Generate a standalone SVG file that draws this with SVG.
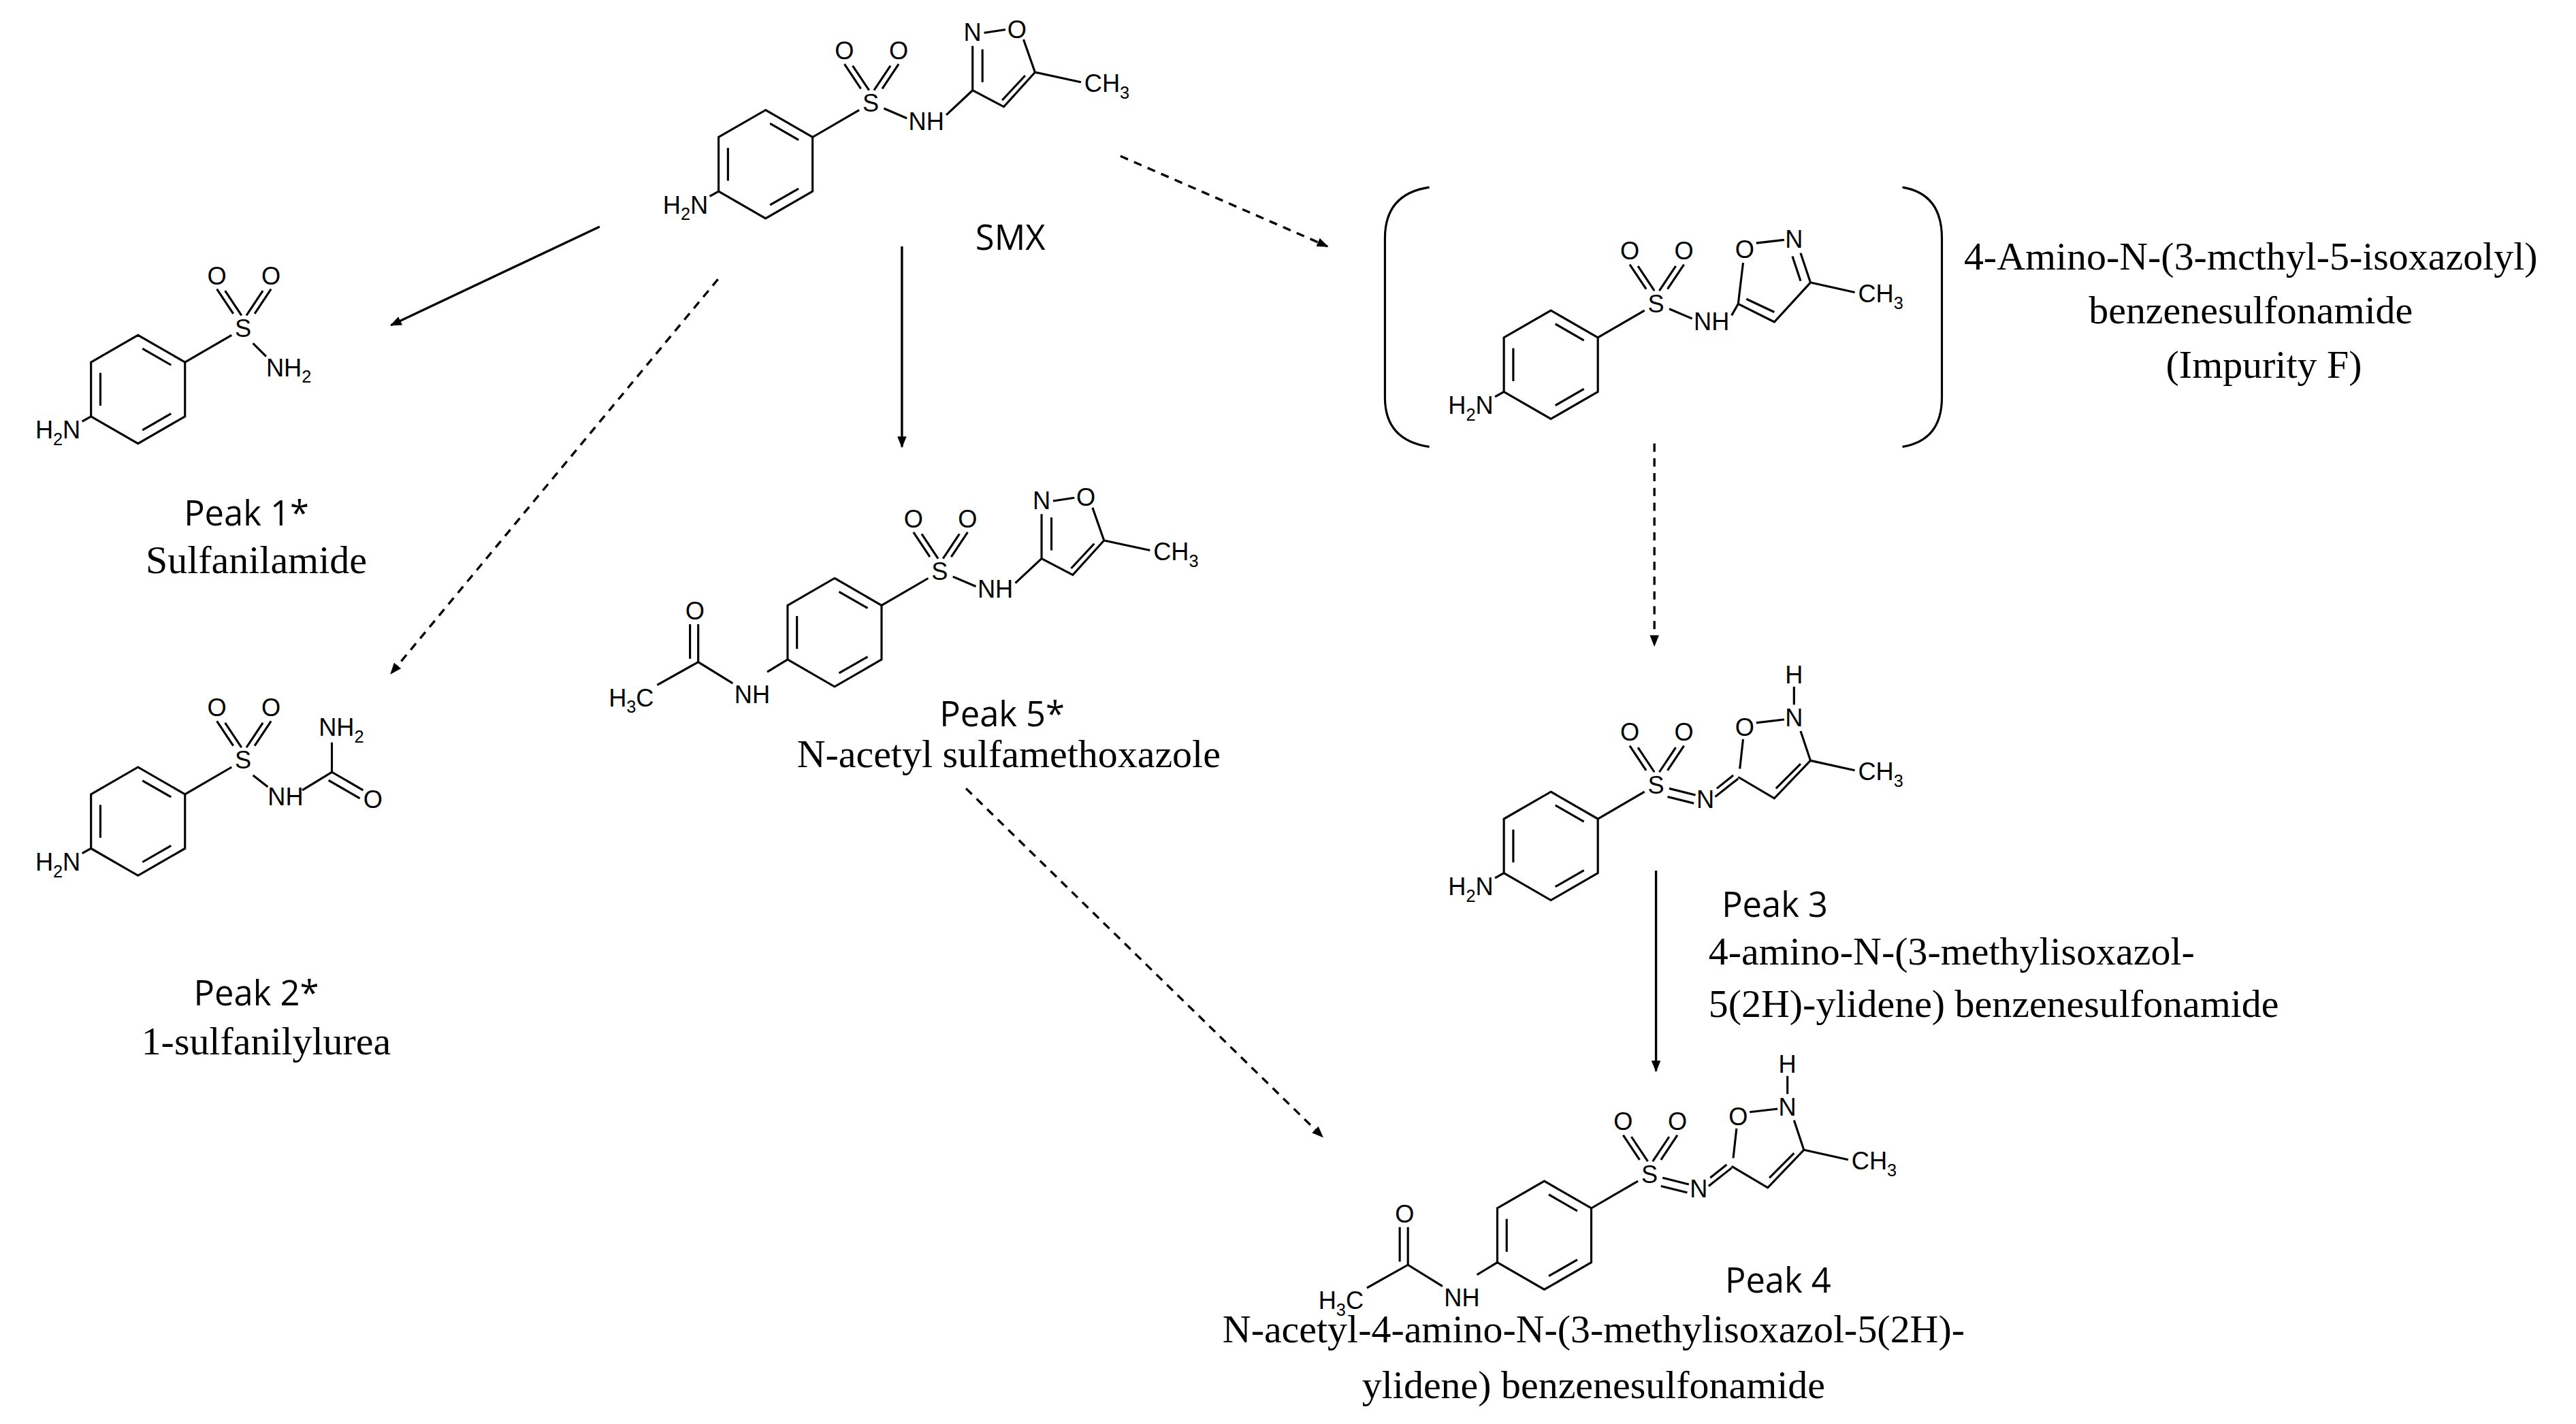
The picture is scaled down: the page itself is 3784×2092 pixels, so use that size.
<svg xmlns="http://www.w3.org/2000/svg" xmlns:xlink="http://www.w3.org/1999/xlink" width="3784" height="2092" viewBox="0 0 3784 2092">
<style>
.b{stroke:#000;stroke-width:1.3;fill:none}
.c{stroke:#000;stroke-width:1.4;fill:none}
.d{stroke:#000;stroke-width:1.4;fill:none;stroke-dasharray:5 4}
.a{font-family:"Liberation Sans",Arial,sans-serif;font-size:15px;fill:#000}
.s{font-size:10.5px}
.p{font-family:"Open Sans","Liberation Sans",sans-serif;font-size:21px;font-weight:500;fill:#000}
.n{font-family:"Liberation Serif","Times New Roman",serif;font-size:24px;fill:#000}
</style>
<defs>
<marker id="ah" viewBox="0 0 10 10" refX="9" refY="5" markerWidth="7" markerHeight="7" orient="auto" markerUnits="userSpaceOnUse"><path d="M0,1 L10,5 L0,9 z" fill="#000"/></marker>
<g id="benz"><path class="b" d="M0,-33 L28.6,-16.5 L28.6,16.5 L0,33 L-28.6,16.5 L-28.6,-16.5 Z M2.7,-24.8 L20.1,-14.8 M20.1,14.8 L2.7,24.8 M-22.9,10 L-22.9,-10"/></g>
<g id="so2">
<use xlink:href="#benz"/>
<path class="b" d="M28.6,-16.5 L57,-33 M58,-46 L48,-61 M63,-45 L53,-60 M66,-45 L76,-60 M71,-46 L81,-61"/>
<text class="a" x="64" y="-32" text-anchor="middle">S</text>
<text class="a" x="48" y="-64" text-anchor="middle">O</text>
<text class="a" x="81" y="-64" text-anchor="middle">O</text>
</g>
<g id="smxcore">
<use xlink:href="#so2"/>
<path class="b" d="M72,-34 L86,-28 M110,-30 L126,-45 L126,-72 M132,-50 L132,-70 M133,-80 L146,-82 M157,-76 L164,-56 L145,-35 L126,-45 M158,-54 L144,-39 M164,-56 L192,-50"/>
<text class="a" x="87" y="-21">NH</text>
<text class="a" x="126" y="-75" text-anchor="middle">N</text>
<text class="a" x="153" y="-77" text-anchor="middle">O</text>
<text class="a" x="194" y="-44">CH<tspan class="s" dy="4">3</tspan></text>
</g>
<g id="ylid">
<use xlink:href="#so2"/>
<path class="b" d="M72,-35 L88,-31 M71,-30 L87,-26 M100,-30 L114,-41 M101,-35 L111,-43 M115,-47 L117,-65 M125,-75 L142,-77 M148,-86 L148,-97 M152,-70 L158,-52 L136,-29 L114,-42 M152,-50 L137,-35 M158,-52 L185,-46"/>
<text class="a" x="94" y="-23" text-anchor="middle">N</text>
<text class="a" x="118" y="-67" text-anchor="middle">O</text>
<text class="a" x="148" y="-73" text-anchor="middle">N</text>
<text class="a" x="148" y="-99" text-anchor="middle">H</text>
<text class="a" x="187" y="-40">CH<tspan class="s" dy="4">3</tspan></text>
</g>
<g id="amine">
<path class="b" d="M-28.6,16.5 L-34,19.5"/>
<text class="a" x="-35" y="30" text-anchor="end">H<tspan class="s" dy="4">2</tspan><tspan dy="-4">N</tspan></text>
</g>
<g id="acet">
<path class="b" d="M-28.6,16.5 L-41,24 M-62,31 L-83,18 L-108,32 M-83,18 L-83,-5 M-88,16 L-88,-5"/>
<text class="a" x="-61" y="43">NH</text>
<text class="a" x="-85" y="-8" text-anchor="middle">O</text>
<text class="a" x="-110" y="45" text-anchor="end">H<tspan class="s" dy="4">3</tspan><tspan dy="-4">C</tspan></text>
</g>
</defs>
<g transform="scale(2.4133)">
<g id="smx" transform="translate(466,100)"><use xlink:href="#smxcore"/><use xlink:href="#amine"/></g>
<text class="p" x="615" y="152" text-anchor="middle">SMX</text>

<g id="peak1"><g transform="translate(84,237)"><use xlink:href="#so2"/><use xlink:href="#amine"/>
<path class="b" d="M70,-28 L78,-20"/><text class="a" x="78" y="-8">NH<tspan class="s" dy="4">2</tspan></text></g>
<text class="p" x="150" y="320" text-anchor="middle">Peak 1*</text>
<text class="n" x="156" y="349" text-anchor="middle">Sulfanilamide</text></g>

<g id="peak2"><g transform="translate(84,500)"><use xlink:href="#so2"/><use xlink:href="#amine"/>
<path class="b" d="M70,-28 L79,-21 M100,-19 L118,-30 L118,-48 M118,-30 L137,-19 M116,-25 L135,-14"/>
<text class="a" x="79" y="-10">NH</text><text class="a" x="110" y="-52">NH<tspan class="s" dy="4">2</tspan></text>
<text class="a" x="143" y="-8" text-anchor="middle">O</text></g>
<text class="p" x="156" y="612" text-anchor="middle">Peak 2*</text>
<text class="n" x="162" y="642" text-anchor="middle">1-sulfanilylurea</text></g>

<g id="peak5"><g transform="translate(508,385)"><use xlink:href="#smxcore"/><use xlink:href="#acet"/></g>
<text class="p" x="610" y="442" text-anchor="middle">Peak 5*</text>
<text class="n" x="614" y="467" text-anchor="middle">N-acetyl sulfamethoxazole</text></g>

<g id="impf"><g transform="translate(944,222)"><use xlink:href="#so2"/><use xlink:href="#amine"/>
<path class="b" d="M72,-34 L86,-28 M110,-30 L114,-37 L117,-62 M125,-74 L142,-76 M152,-68 L158,-50 M147,-66 L152,-51 M158,-50 L136,-26 L114,-37 M136,-32 L119,-40 M158,-50 L185,-44"/>
<text class="a" x="87" y="-21">NH</text><text class="a" x="118" y="-65" text-anchor="middle">O</text>
<text class="a" x="148" y="-71" text-anchor="middle">N</text>
<text class="a" x="187" y="-38">CH<tspan class="s" dy="4">3</tspan></text></g>
<path class="b" d="M870,114 Q843,118 843,145 L843,242 Q843,268 870,272 M1158,114 Q1182,118 1182,145 L1182,242 Q1182,268 1158,272"/>
<text class="n" x="1370" y="164" text-anchor="middle">4-Amino-N-(3-mcthyl-5-isoxazolyl)</text>
<text class="n" x="1370" y="197" text-anchor="middle">benzenesulfonamide</text>
<text class="n" x="1378" y="230" text-anchor="middle">(Impurity F)</text></g>

<g id="peak3"><g transform="translate(944,515)"><use xlink:href="#ylid"/><use xlink:href="#amine"/></g>
<text class="p" x="1048" y="558">Peak 3</text>
<text class="n" x="1040" y="587">4-amino-N-(3-methylisoxazol-</text>
<text class="n" x="1040" y="619">5(2H)-ylidene) benzenesulfonamide</text></g>

<g id="peak4"><g transform="translate(940,752)"><use xlink:href="#ylid"/><use xlink:href="#acet"/></g>
<text class="p" x="1050" y="787">Peak 4</text>
<text class="n" x="970" y="817" text-anchor="middle">N-acetyl-4-amino-N-(3-methylisoxazol-5(2H)-</text>
<text class="n" x="970" y="851" text-anchor="middle">ylidene) benzenesulfonamide</text></g>

<g id="connectors">
<line class="c" x1="365" y1="138" x2="238" y2="198" marker-end="url(#ah)"/>
<line class="d" x1="437" y1="170" x2="238" y2="410" marker-end="url(#ah)"/>
<line class="c" x1="549" y1="150" x2="549" y2="272" marker-end="url(#ah)"/>
<line class="d" x1="682" y1="95" x2="808" y2="150" marker-end="url(#ah)"/>
<line class="d" x1="1007" y1="270" x2="1007" y2="393" marker-end="url(#ah)"/>
<line class="c" x1="1008" y1="530" x2="1008" y2="652" marker-end="url(#ah)"/>
<line class="d" x1="588" y1="480" x2="805" y2="692" marker-end="url(#ah)"/>
</g>
</g>
</svg>
